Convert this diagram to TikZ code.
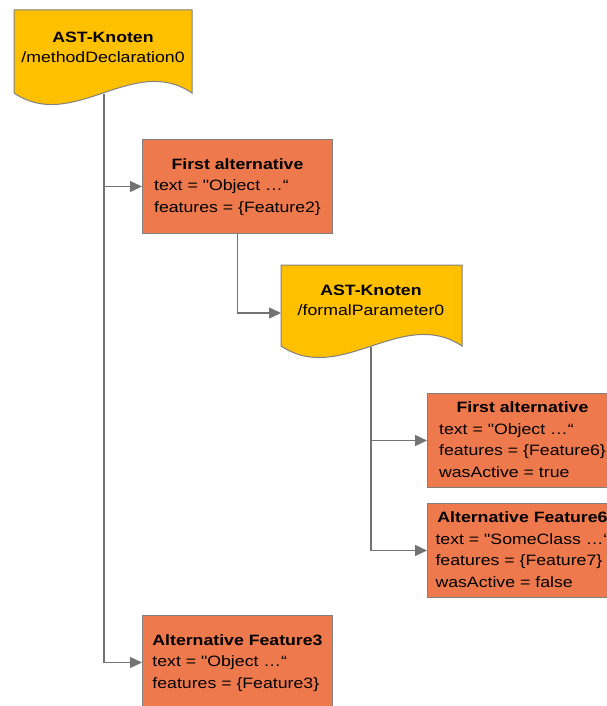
\documentclass[tikz,border=0pt]{standalone}
\usepackage{fontspec}
\setmainfont{Liberation Sans}[FakeStretch=1.18, Ligatures=TeXOff]
\usetikzlibrary{arrows.meta}
\definecolor{docyellow}{RGB}{255,192,0}
\definecolor{altorange}{RGB}{238,121,76}
\definecolor{edgegray}{RGB}{128,128,128}
\definecolor{linegray}{RGB}{115,115,115}
\tikzset{
  docshape/.style={fill=docyellow, draw=edgegray, line width=1pt},
  doctext/.style={align=center, inner sep=0pt, font=\fontsize{15}{20}\selectfont},
  altbox/.style={fill=altorange, draw=edgegray, line width=1pt, anchor=north west,
    minimum width=190pt, minimum height=94pt, inner sep=0pt,
    font=\fontsize{15}{21.5}\selectfont},
  conn/.style={draw=linegray, line width=1.4pt},
  arr/.style={conn, -{Triangle[length=12pt,width=11pt]}},
}
\newcommand{\altcontent}[2]{\begin{tabular}{@{}l@{}}\multicolumn{1}{@{}c@{}}{\textbf{#1}}\\#2\end{tabular}}
\begin{document}
\begin{tikzpicture}[x=1pt,y=-1pt]
\useasboundingbox (0,0) rectangle (607,706);
% document shapes
\draw[docshape] (14,10) -- (192,10) -- (192,93)
  .. controls (133,53) and (73,133) .. (14,93) -- cycle;
\node[doctext] (k1) at (103,47) {\textbf{AST-Knoten}\\/methodDeclaration0};
\draw[docshape] (281,265) -- (462,265) -- (462,346)
  .. controls (402,306) and (341,386) .. (281,346) -- cycle;
\node[doctext] (k2) at (371,300) {\textbf{AST-Knoten}\\/formalParameter0};
% alternative boxes
\node[altbox] (a1) at (142,139) {\altcontent{First alternative}{text = "Object …“\\features = \{Feature2\}}};
\node[altbox] (a2) at (427,393) {\altcontent{First alternative}{text = "Object …“\\features = \{Feature6\}\\wasActive = true}};
\node[altbox] (a3) at (427,503) {\altcontent{Alternative Feature6}{text = "SomeClass …“\\features = \{Feature7\}\\wasActive = false}};
\node[altbox] (a4) at (142,615) {\altcontent{Alternative Feature3}{text = "Object …“\\features = \{Feature3\}}};
% connector points
\coordinate (s1) at (104,94);
\coordinate (j1) at (s1 |- a1.west);
\coordinate (c1) at (s1 |- a4.west);
\coordinate (k2in) at (281,313);
\coordinate (c2) at (a1.south |- k2in);
\coordinate (s2) at (371,347);
\coordinate (j2) at (s2 |- a2.west);
\coordinate (c3) at (s2 |- a3.west);
% connectors
\draw[conn] (s1) -- (j1);
\draw[arr] (j1) -- (a1.west);
\draw[arr] (j1) -- (c1) -- (a4.west);
\draw[arr] (a1.south) -- (c2) -- (k2in);
\draw[conn] (s2) -- (j2);
\draw[arr] (j2) -- (a2.west);
\draw[arr] (j2) -- (c3) -- (a3.west);
\end{tikzpicture}
\end{document}
